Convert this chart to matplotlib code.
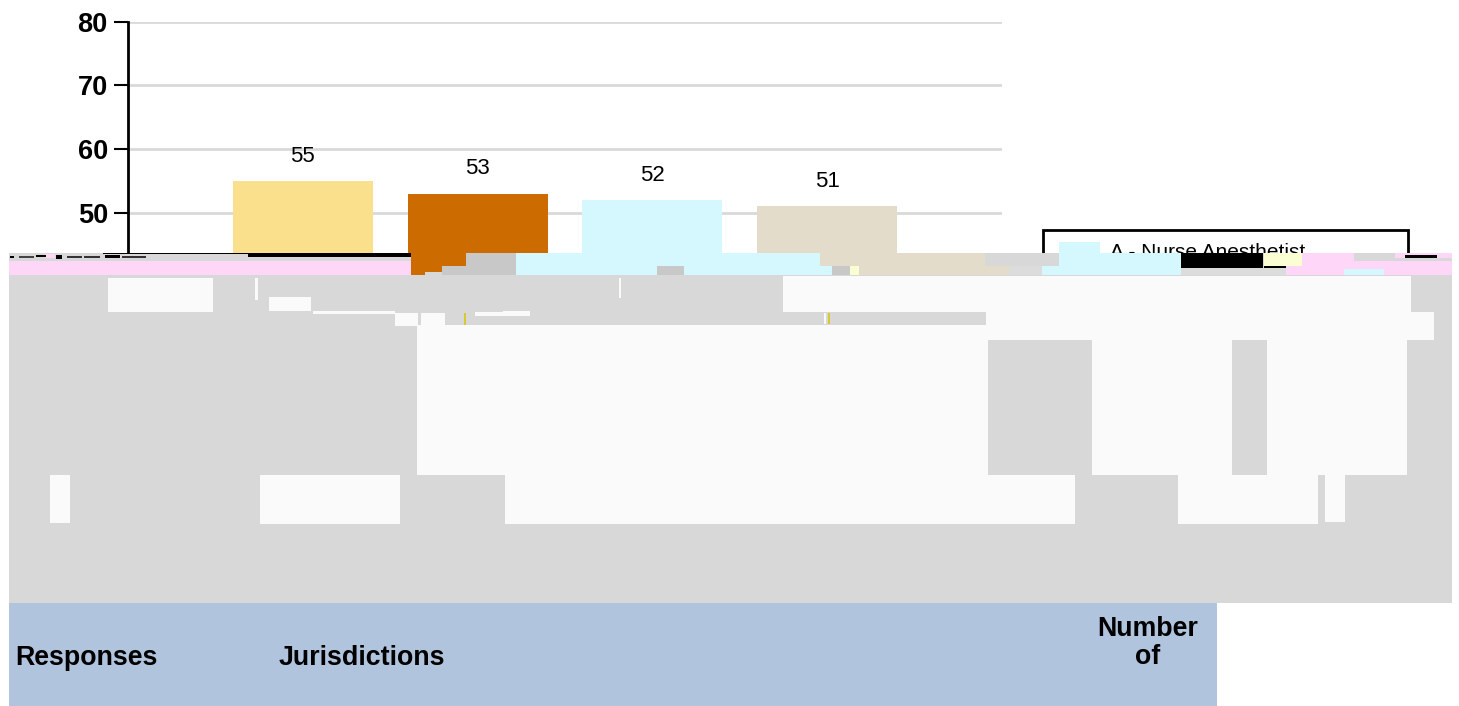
import matplotlib
matplotlib.use('Agg')
import matplotlib.pyplot as plt
from matplotlib.patches import Rectangle

plt.rcParams['font.family'] = ['Liberation Sans', 'DejaVu Sans']

bar_positions = [1, 2, 3, 4]
bar_values = [55, 53, 52, 51]
bar_colors = ['#fae08c', '#cc6b00', '#d5f7fe', '#e3dcca']
y_ticks = [0, 10, 20, 30, 40, 50, 60, 70, 80]
legend_label = 'A - Nurse Anesthetist'
header_labels = ['Responses', 'Jurisdictions', 'Number\nof']

W, H = 1459, 706
GRAY = '#d8d8d8'
DARK_GRAY = '#c8c8c8'
LIGHT_GRAY = '#dcdcdc'
OFF_WHITE = '#fafafa'
PINK = '#fdd6f8'
SKY = '#d5f7fe'
ORANGE = '#cc6b00'
BEIGE = '#e3dcca'
CREAM = '#fbfdd2'
YELLOW = '#d8c832'
BLUE = '#b0c4de'

# the reference is broken below y=253, these are the damaged blocks in pixels
# (x0, y0, x1, y1, colour), later ones are painted over earlier ones
glitch_blocks = [
    (9, 253, 1452, 276, GRAY),
    (9, 261, 411, 275, PINK),
    (103, 253, 248, 254, 'black'),
    (248, 253, 411, 257, 'black'),
    (45, 254, 55, 258, PINK),
    (10, 256, 14, 258, 'black'),
    (19, 256, 34, 258, '#444444'),
    (36, 255, 46, 257, 'black'),
    (56, 255, 62, 259, 'black'),
    (67, 256, 82, 258, '#333333'),
    (84, 256, 100, 258, '#333333'),
    (105, 255, 120, 258, 'black'),
    (122, 256, 146, 258, '#333333'),
    (411, 253, 466, 266, ORANGE),
    (411, 266, 442, 272, ORANGE),
    (411, 272, 425, 275, ORANGE),
    (466, 253, 516, 266, DARK_GRAY),
    (442, 266, 516, 275, DARK_GRAY),
    (516, 253, 820, 266, SKY),
    (516, 266, 832, 275, SKY),
    (657, 266, 684, 275, DARK_GRAY),
    (820, 253, 985, 266, BEIGE),
    (832, 266, 850, 275, DARK_GRAY),
    (850, 266, 859, 275, CREAM),
    (859, 266, 1009, 275, BEIGE),
    (1009, 266, 1042, 275, LIGHT_GRAY),
    (1042, 266, 1181, 275, SKY),
    (1059, 253, 1181, 266, SKY),
    (1181, 253, 1263, 268, 'black'),
    (1264, 253, 1302, 266, CREAM),
    (1264, 266, 1286, 268, 'black'),
    (1181, 268, 1286, 275, LIGHT_GRAY),
    (1286, 266, 1452, 275, PINK),
    (1302, 261, 1452, 266, PINK),
    (1302, 253, 1354, 261, PINK),
    (1395, 253, 1452, 258, PINK),
    (1405, 255, 1437, 258, 'black'),
    (1344, 269, 1384, 275, SKY),
    (9, 276, 1452, 603, GRAY),
    (108, 278, 213, 312, OFF_WHITE),
    (255, 278, 258, 300, OFF_WHITE),
    (619, 278, 621, 298, OFF_WHITE),
    (269, 297, 311, 311, OFF_WHITE),
    (313, 311, 395, 314, OFF_WHITE),
    (395, 313, 418, 326, OFF_WHITE),
    (421, 313, 445, 326, OFF_WHITE),
    (475, 312, 503, 316, OFF_WHITE),
    (503, 311, 530, 316, OFF_WHITE),
    (783, 276, 1411, 312, OFF_WHITE),
    (986, 312, 1434, 340, OFF_WHITE),
    (417, 325, 1407, 475, OFF_WHITE),
    (988, 340, 1092, 475, GRAY),
    (1232, 340, 1267, 475, GRAY),
    (50, 475, 70, 523, OFF_WHITE),
    (260, 475, 400, 524, OFF_WHITE),
    (505, 475, 1075, 524, OFF_WHITE),
    (1178, 475, 1318, 524, OFF_WHITE),
    (1325, 475, 1345, 522, OFF_WHITE),
    (464, 313, 466, 325, YELLOW),
    (824, 313, 826, 324, OFF_WHITE),
    (828, 313, 830, 324, YELLOW),
    (9, 603, 1217, 706, BLUE),
]

fig = plt.figure(figsize=(W / 100, H / 100), dpi=100)

# main chart, 80 sits at y=21.5 and 0 at y=531.5
ax = fig.add_axes([128 / W, 1 - 531.5 / H, 874 / W, 510 / H])
ax.set_xlim(0, 5)
ax.set_ylim(0, 80)
ax.set_axisbelow(True)
ax.yaxis.grid(True, color='#d9d9d9', linewidth=2)
ax.bar(bar_positions, bar_values, width=0.8, color=bar_colors)
for x, v in zip(bar_positions, bar_values):
    ax.annotate(str(v), (x, v), xytext=(0, 10.3), textcoords='offset points',
                ha='center', va='bottom', fontsize=16)

ax.set_yticks(y_ticks)
ax.set_xticks([])
ax.tick_params(axis='y', length=10, width=1.5, labelsize=19.5, pad=4.5)
for label in ax.get_yticklabels():
    label.set_fontweight('bold')
for side in ['top', 'right', 'bottom']:
    ax.spines[side].set_visible(False)
ax.spines['left'].set_linewidth(2)

# overlay in pixel coordinates for the legend box and the damaged area
over = fig.add_axes([0, 0, 1, 1], zorder=5)
over.set_xlim(0, W)
over.set_ylim(H, 0)
over.axis('off')

over.add_patch(Rectangle((1043, 230), 365, 60, facecolor='white', edgecolor='black', linewidth=2))
over.add_patch(Rectangle((1059, 242), 41, 30, facecolor=SKY))
over.text(1110, 252, legend_label, fontsize=15, va='center')

for i, (x0, y0, x1, y1, color) in enumerate(glitch_blocks):
    over.add_patch(Rectangle((x0, y0), x1 - x0, y1 - y0, facecolor=color,
                             edgecolor='none', zorder=3 + i * 0.001))

over.text(15, 658, header_labels[0], fontsize=19.3, fontweight='bold', va='center', zorder=4)
over.text(279, 658, header_labels[1], fontsize=19.3, fontweight='bold', va='center', zorder=4)
over.text(1148, 643, header_labels[2], fontsize=19.3, fontweight='bold', ha='center', va='center',
          linespacing=1.13, zorder=4)

fig.savefig('out.png', dpi=100)
